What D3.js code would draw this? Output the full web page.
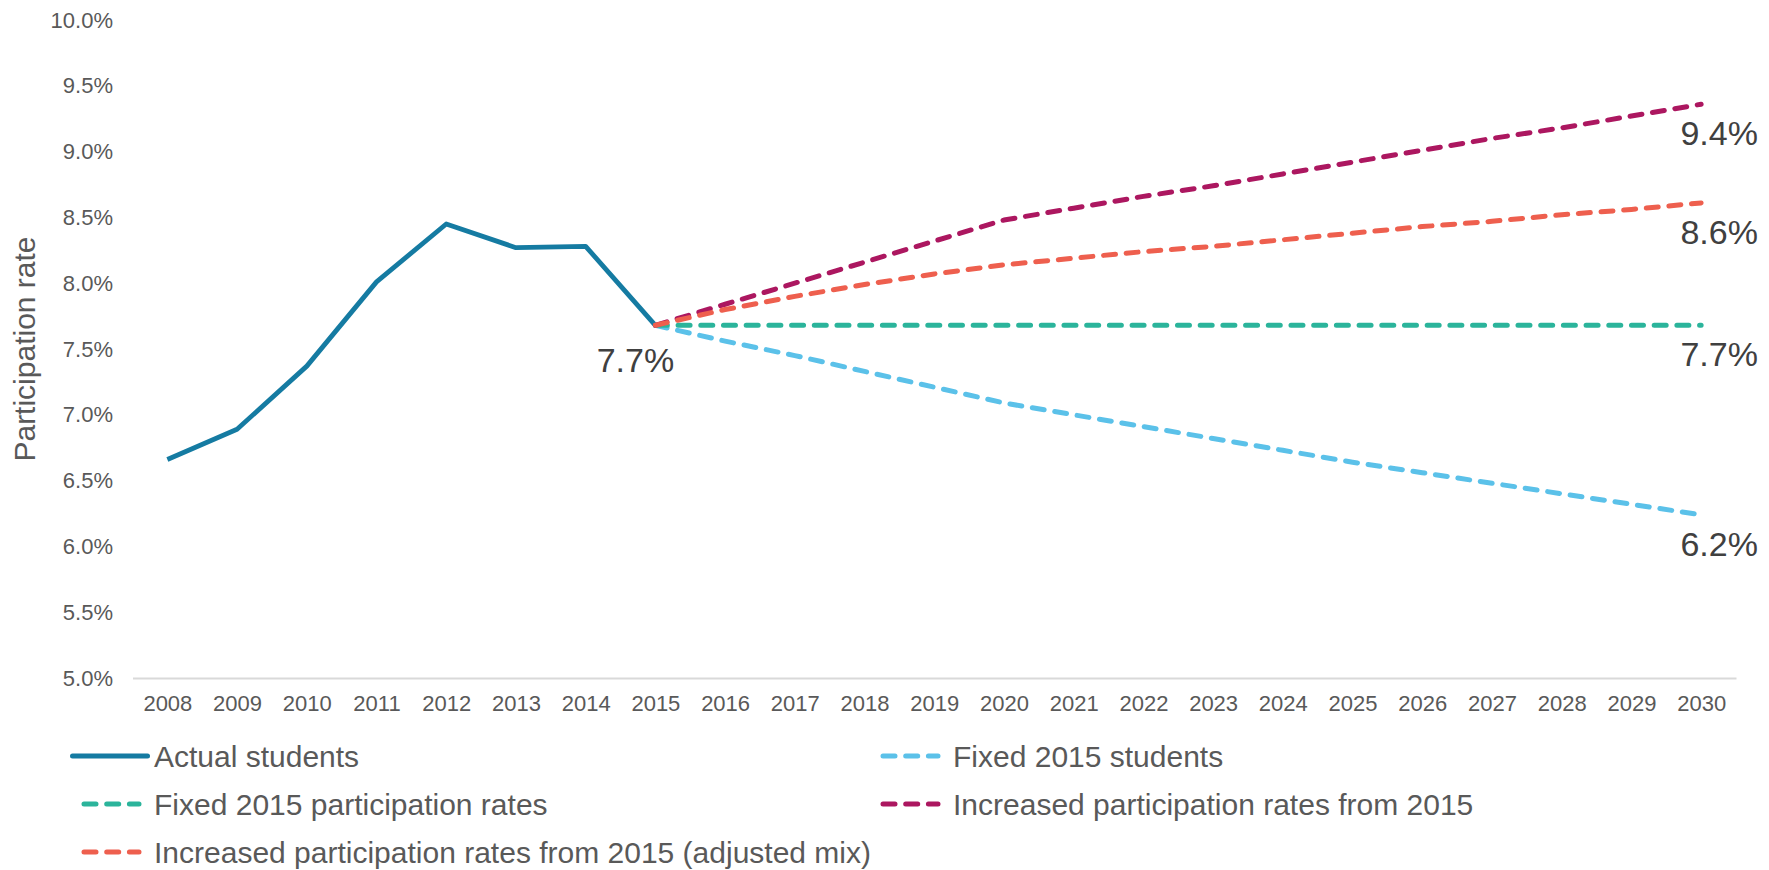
<!DOCTYPE html>
<html>
<head>
<meta charset="utf-8">
<script src="https://cdn.jsdelivr.net/npm/d3@7"></script>
<style>
    body { margin: 0; background: #fff; }
    svg { display: block; font-family: "Liberation Sans", Arial, sans-serif; }
</style>
</head>
<body>
<script>
/* global d3 */

// categories
var years = [2008, 2009, 2010, 2011, 2012, 2013, 2014, 2015, 2016, 2017, 2018, 2019,
    2020, 2021, 2022, 2023, 2024, 2025, 2026, 2027, 2028, 2029, 2030];
var actualYears = [2008, 2009, 2010, 2011, 2012, 2013, 2014, 2015];
var projYears = [2015, 2016, 2017, 2018, 2019, 2020, 2021, 2022, 2023, 2024, 2025, 2026,
    2027, 2028, 2029, 2030];

// series values (participation rate, %)
var actualStudents = [6.66, 6.89, 7.37, 8.01, 8.45, 8.27, 8.28, 7.68];
var fixedStudents = [7.68, 7.56, 7.45, 7.33, 7.21, 7.09, 7.00, 6.91, 6.82, 6.73, 6.64,
    6.56, 6.48, 6.40, 6.32, 6.24];
var fixedRates = [7.68, 7.68, 7.68, 7.68, 7.68, 7.68, 7.68, 7.68, 7.68, 7.68, 7.68,
    7.68, 7.68, 7.68, 7.68, 7.68];
var increasedRates = [7.68, 7.84, 8.00, 8.16, 8.32, 8.48, 8.57, 8.66, 8.74, 8.83, 8.92,
    9.01, 9.10, 9.18, 9.27, 9.36];
var adjustedMix = [7.68, 7.80, 7.90, 7.99, 8.07, 8.14, 8.19, 8.24, 8.28, 8.33, 8.38,
    8.43, 8.47, 8.52, 8.56, 8.61];

// y tick labels
var yTicks = [5.0, 5.5, 6.0, 6.5, 7.0, 7.5, 8.0, 8.5, 9.0, 9.5, 10.0];

var seriesNames = ["Actual students", "Fixed 2015 students", "Fixed 2015 participation rates",
    "Increased participation rates from 2015", "Increased participation rates from 2015 (adjusted mix)"];

var chartWidth = 1769;
var chartHeight = 870;

var series = [
    { name: seriesNames[0], x: actualYears, v: actualStudents, color: "#157BA2", dashed: false },
    { name: seriesNames[1], x: projYears, v: fixedStudents, color: "#5BC1E9", dashed: true },
    { name: seriesNames[2], x: projYears, v: fixedRates, color: "#2BB49B", dashed: true },
    { name: seriesNames[3], x: projYears, v: increasedRates, color: "#AC1760", dashed: true },
    { name: seriesNames[4], x: projYears, v: adjustedMix, color: "#EE5F4E", dashed: true }
];

var svg = d3.select("body")
    .append("svg")
    .attr("width", chartWidth)
    .attr("height", chartHeight);

var xScale = d3.scalePoint()
    .domain(years)
    .range([132.5, 1736])
    .padding(0.5);

var yScale = d3.scaleLinear()
    .domain([5, 10])
    .range([678, 20]);

// y axis (labels only)
var yAxis = svg.append("g")
    .attr("transform", "translate(133,0)")
    .call(d3.axisLeft(yScale)
        .tickValues(yTicks)
        .tickSize(0)
        .tickPadding(20)
        .tickFormat(function(d) { return d3.format(".1f")(d) + "%"; }));
yAxis.select(".domain").remove();
yAxis.selectAll("text")
    .attr("fill", "#595959")
    .style("font-size", "22px")
    .style("font-family", "'Liberation Sans', Arial, sans-serif");

// x axis
var xAxis = svg.append("g")
    .attr("transform", "translate(0," + yScale(5) + ")")
    .call(d3.axisBottom(xScale)
        .tickSize(0)
        .tickPadding(17));
xAxis.select(".domain")
    .attr("stroke", "#D9D9D9")
    .attr("stroke-width", 2);
xAxis.selectAll("text")
    .attr("fill", "#595959")
    .style("font-size", "22px")
    .style("font-family", "'Liberation Sans', Arial, sans-serif");

// axis title
svg.append("text")
    .attr("transform", "translate(35," + yScale(7.5) + ") rotate(-90)")
    .attr("text-anchor", "middle")
    .attr("fill", "#595959")
    .style("font-size", "30px")
    .text("Participation rate");

var line = d3.line()
    .x(function(d) { return xScale(d[0]); })
    .y(function(d) { return yScale(d[1]); });

series.forEach(function(s) {
    var pts = s.x.map(function(yr, i) { return [yr, s.v[i]]; });
    svg.append("path")
        .attr("d", line(pts))
        .attr("fill", "none")
        .attr("stroke", s.color)
        .attr("stroke-width", s.dashed ? 5 : 4.8)
        .attr("stroke-linecap", s.dashed ? "round" : "butt")
        .attr("stroke-linejoin", "round")
        .attr("stroke-dasharray", s.dashed ? "12,10.7" : null);
});

// data labels
var pct = function(v) { return d3.format(".1f")(v) + "%"; };

svg.append("text")
    .attr("x", xScale(2015) - 20)
    .attr("y", yScale(actualStudents[7]) + 35)
    .attr("text-anchor", "middle")
    .attr("dominant-baseline", "central")
    .attr("fill", "#404040")
    .style("font-size", "34px")
    .text(pct(actualStudents[7]));

series.slice(1).forEach(function(s) {
    var last = s.v[s.v.length - 1];
    svg.append("text")
        .attr("x", xScale(2030) + 18)
        .attr("y", yScale(last) + 29)
        .attr("text-anchor", "middle")
        .attr("dominant-baseline", "central")
        .attr("fill", "#404040")
        .style("font-size", "34px")
        .text(pct(last));
});

// legend, two columns
var legendCols = [154, 953];
var legendRows = [756, 804, 852];

series.forEach(function(s, i) {
    var tx = legendCols[i % 2];
    var ty = legendRows[Math.floor(i / 2)];
    var g = svg.append("g").classed("legendItem", true);
    if (s.dashed) {
        g.append("line")
            .attr("x1", tx - 70).attr("x2", tx - 15)
            .attr("y1", ty).attr("y2", ty)
            .attr("stroke", s.color)
            .attr("stroke-width", 5)
            .attr("stroke-linecap", "round")
            .attr("stroke-dasharray", "12,10.7");
    } else {
        g.append("line")
            .attr("x1", tx - 81.5).attr("x2", tx - 6.5)
            .attr("y1", ty).attr("y2", ty)
            .attr("stroke", s.color)
            .attr("stroke-width", 5)
            .attr("stroke-linecap", "round");
    }
    g.append("text")
        .attr("x", tx)
        .attr("y", ty)
        .attr("dominant-baseline", "central")
        .attr("fill", "#595959")
        .style("font-size", "30px")
        .text(s.name);
});
</script>
</body>
</html>
